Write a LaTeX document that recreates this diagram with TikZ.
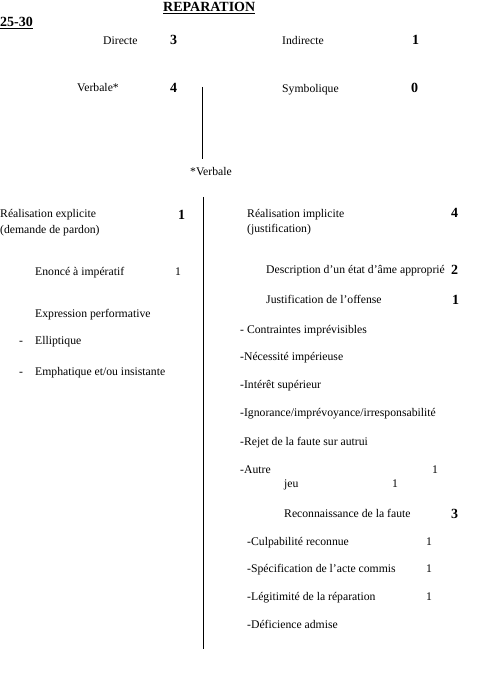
\documentclass[tikz,border=0pt]{standalone}
\usepackage{fontspec}
\setmainfont{Liberation Serif}
\usetikzlibrary{positioning}

\begin{document}
\begin{tikzpicture}[x=1pt,y=-1pt,
  txt/.style={anchor=base west,inner sep=0pt,font=\fontsize{11.7}{13}\selectfont},
  num/.style={anchor=base west,inner sep=0pt,font=\fontsize{14}{16}\selectfont\bfseries},
  head/.style={anchor=base west,inner sep=0pt,font=\fontsize{14}{16}\selectfont\bfseries},
  rule/.style={line width=1pt}]
\useasboundingbox (0,0) rectangle (490,676);
% header
\node[head] (title) at (163,12) {\underline{REPARATION}};
\node[head] (range) at (0,27) {\underline{25-30}};
\node[txt] (dir) at (103,45) {Directe};
\node[num] (dirn) at (170,45) {3};
\node[txt] (ind) at (282,45) {Indirecte};
\node[num] (indn) at (412,45) {1};
\node[txt] (verb) at (77,92) {Verbale*};
\node[num] (verbn) at (170,93) {4};
\node[txt] (sym) at (282,93) {Symbolique};
\node[num] (symn) at (411,93) {0};
\coordinate (top1) at (202,87);
\coordinate (bot1) at (202,159);
\draw[rule] (top1) -- (bot1);
\node[txt] (note) at (190,176) {*Verbale};
% left column
\node[txt] (expl) at (0,218) {R\'ealisation explicite};
\node[txt] (expl2) at (0,233) {(demande de pardon)};
\node[num] (expln) at (178,219) {1};
\node[txt] (imp) at (35,275) {Enonc\'e \`a imp\'eratif};
\node[txt] (impn) at (175,275) {1};
\node[txt] (perf) at (35,317) {Expression performative};
\node[txt] (d1) at (19,344) {-};
\node[txt] (ell) at (35,344) {Elliptique};
\node[txt] (d2) at (19,375) {-};
\node[txt] (emph) at (35,375) {Emphatique et/ou insistante};
\coordinate (top2) at (203,197);
\coordinate (bot2) at (203,649);
\draw[rule] (top2) -- (bot2);
% right column
\node[txt] (impl) at (247,217) {R\'ealisation implicite};
\node[txt] (impl2) at (247,232) {(justification)};
\node[num] (impln) at (451,218) {4};
\node[txt] (desc) at (266,273) {Description d’un \'etat d’\^ame appropri\'e};
\node[num] (descn) at (451,274) {2};
\node[txt] (just) at (266,303) {Justification de l’offense};
\node[num] (justn) at (452,304) {1};
\node[txt] (c1) at (240,333) {- Contraintes impr\'evisibles};
\node[txt] (c2) at (240,360) {-N\'ecessit\'e imp\'erieuse};
\node[txt] (c3) at (240,388) {-Int\'er\^et sup\'erieur};
\node[txt] (c4) at (240,416) {-Ignorance/impr\'evoyance/irresponsabilit\'e};
\node[txt] (c5) at (240,445) {-Rejet de la faute sur autrui};
\node[txt] (c6) at (240,473) {-Autre};
\node[txt] (c6n) at (432,473) {1};
\node[txt] (jeu) at (284,487) {jeu};
\node[txt] (jeun) at (392,487) {1};
\node[txt] (rec) at (284,517) {Reconnaissance de la faute};
\node[num] (recn) at (451,518) {3};
\node[txt] (r1) at (247,545) {-Culpabilit\'e reconnue};
\node[txt] (r1n) at (426,545) {1};
\node[txt] (r2) at (247,572) {-Sp\'ecification de l’acte commis};
\node[txt] (r2n) at (426,572) {1};
\node[txt] (r3) at (247,600) {-L\'egitimit\'e de la r\'eparation};
\node[txt] (r3n) at (426,600) {1};
\node[txt] (r4) at (247,628) {-D\'eficience admise};
\end{tikzpicture}
\end{document}
